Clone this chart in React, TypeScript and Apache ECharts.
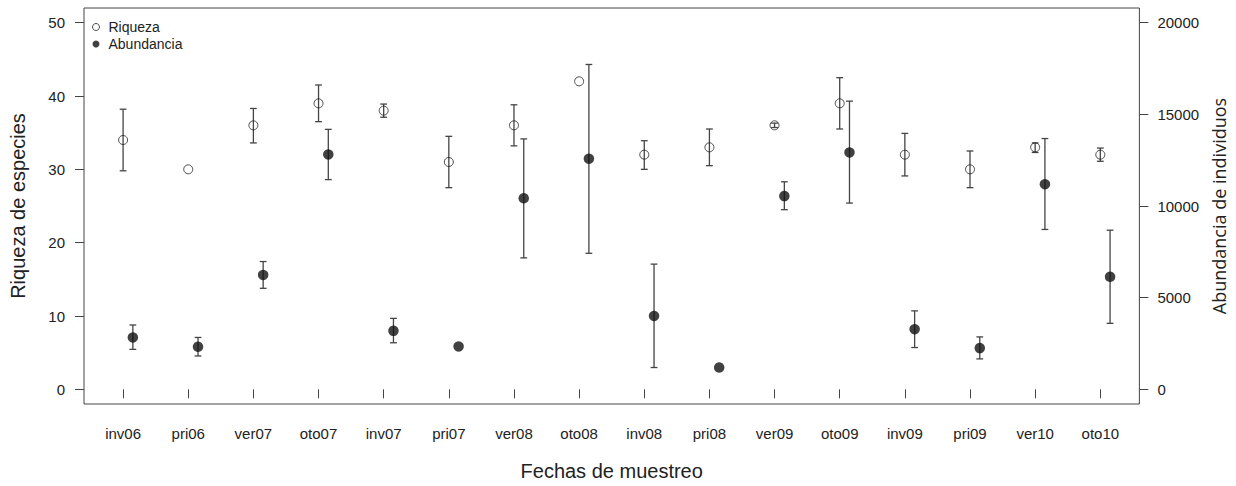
import React, { useEffect, useRef } from "react";
import * as echarts from "echarts";

const categories = ["inv06", "pri06", "ver07", "oto07", "inv07", "pri07", "ver08", "oto08", "inv08", "pri08", "ver09", "oto09", "inv09", "pri09", "ver10", "oto10"];

// Riqueza de especies (left axis): mean, lower, upper (null = no error bar)
const riqueza = [34, 30, 36, 39, 38, 31, 36, 42, 32, 33, 36, 39, 32, 30, 33, 32];
const riquezaLow = [29.8, null, 33.6, 36.5, 37.1, 27.5, 33.2, null, 30.0, 30.5, 35.7, 35.5, 29.1, 27.5, 32.3, 31.1];
const riquezaHigh = [38.2, null, 38.3, 41.5, 38.9, 34.5, 38.8, null, 33.9, 35.5, 36.3, 42.5, 34.9, 32.5, 33.6, 32.9];

// Abundancia de individuos (right axis): mean, lower, upper
const abundancia = [2830, 2320, 6240, 12810, 3190, 2340, 10420, 12580, 4000, 1190, 10540, 12920, 3280, 2250, 11190, 6140];
const abundanciaLow = [2180, 1820, 5510, 11440, 2540, null, 7170, 7420, 1190, null, 9800, 10160, 2280, 1660, 8720, 3600];
const abundanciaHigh = [3510, 2830, 6970, 14180, 3870, null, 13660, 17720, 6830, null, 11320, 15720, 4280, 2860, 13680, 8680];

const leftTicks = [0, 10, 20, 30, 40, 50];
const rightTicks = [0, 5000, 10000, 15000, 20000];

const ABUND_OFFSET = 0.15;

const FONT = "'Liberation Sans', Arial, Helvetica, sans-serif";
const TXT = "#222";

function errorBars(low: (number | null)[], high: (number | null)[], offset: number) {
  const out: number[][] = [];
  low.forEach((lo, i) => {
    const hi = high[i];
    if (lo != null && hi != null) out.push([i + 1 + offset, lo, hi]);
  });
  return out;
}

function renderErrorBar(params: any, api: any) {
  const x = api.value(0);
  const lo = api.coord([x, api.value(1)]);
  const hi = api.coord([x, api.value(2)]);
  const cap = 3.4;
  const style = { stroke: "#444", lineWidth: 1.3 };
  return {
    type: "group",
    children: [
      { type: "line", shape: { x1: lo[0], y1: lo[1], x2: hi[0], y2: hi[1] }, style },
      { type: "line", shape: { x1: lo[0] - cap, y1: lo[1], x2: lo[0] + cap, y2: lo[1] }, style },
      { type: "line", shape: { x1: hi[0] - cap, y1: hi[1], x2: hi[0] + cap, y2: hi[1] }, style },
    ],
  };
}

export default function App() {
  const ref = useRef<HTMLDivElement>(null);
  useEffect(() => {
    if (!ref.current) return;
    const chart = echarts.init(ref.current, null, { renderer: "svg" });
    const xTicks = categories.map((_, i) => i + 1);
    const option: any = {
      animation: false,
      backgroundColor: "#fff",
      textStyle: { fontFamily: FONT, color: TXT },
      grid: { left: 83, right: 92, top: 8, bottom: 79, show: true, borderColor: "#444", borderWidth: 1, backgroundColor: "transparent" },
      legend: {
        orient: "vertical",
        left: 87,
        top: 15,
        itemWidth: 7,
        itemHeight: 7,
        itemGap: 3,
        textStyle: { fontFamily: FONT, fontSize: 14, color: TXT, padding: [0, 0, 0, 4] },
        data: [
          { name: "Riqueza", icon: "circle", itemStyle: { color: "transparent", borderColor: "#222", borderWidth: 1 } },
          { name: "Abundancia", icon: "circle", itemStyle: { color: "#111" } },
        ],
      },
      xAxis: {
        type: "value",
        min: 0.4,
        max: 16.6,
        name: "Fechas de muestreo",
        nameLocation: "middle",
        nameGap: 57,
        nameTextStyle: { fontFamily: FONT, fontSize: 20, color: TXT },
        splitLine: { show: false },
        axisLine: { show: false },
        axisTick: { show: true, inside: false, length: 9, customValues: xTicks, lineStyle: { color: "#444" } },
        axisLabel: {
          customValues: xTicks,
          margin: 22,
          fontFamily: FONT,
          fontSize: 15,
          color: TXT,
          formatter: (v: number) => categories[Math.round(v) - 1] ?? "",
        },
      },
      yAxis: [
        {
          type: "value",
          min: -2,
          max: 52,
          position: "left",
          name: "Riqueza de especies",
          nameLocation: "middle",
          nameGap: 56,
          nameTextStyle: { fontFamily: FONT, fontSize: 20, color: TXT },
          splitLine: { show: false },
          axisLine: { show: false },
          axisTick: { show: true, length: 9, customValues: leftTicks, lineStyle: { color: "#444" } },
          axisLabel: { customValues: leftTicks, margin: 19, fontFamily: FONT, fontSize: 15, color: TXT },
        },
        {
          type: "value",
          min: -800,
          max: 20800,
          position: "right",
          name: "Abundancia de individuos",
          nameLocation: "middle",
          nameGap: 70,
          nameTextStyle: { fontFamily: "'Open Sans', sans-serif", fontSize: 18, color: TXT },
          splitLine: { show: false },
          axisLine: { show: false },
          axisTick: { show: true, length: 9, customValues: rightTicks, lineStyle: { color: "#444" } },
          axisLabel: {
            customValues: rightTicks,
            margin: 18,
            fontFamily: FONT,
            fontSize: 15,
            color: TXT,
            formatter: (v: number) => String(v),
          },
        },
      ],
      series: [
        {
          name: "Riqueza error",
          type: "custom",
          yAxisIndex: 0,
          renderItem: renderErrorBar,
          data: errorBars(riquezaLow, riquezaHigh, 0),
          z: 1,
          silent: true,
        },
        {
          name: "Abundancia error",
          type: "custom",
          yAxisIndex: 1,
          renderItem: renderErrorBar,
          data: errorBars(abundanciaLow, abundanciaHigh, ABUND_OFFSET),
          z: 1,
          silent: true,
        },
        {
          name: "Riqueza",
          type: "scatter",
          yAxisIndex: 0,
          symbol: "circle",
          symbolSize: 9,
          itemStyle: { color: "transparent", borderColor: "#222", borderWidth: 1 },
          data: riqueza.map((v, i) => [i + 1, v]),
          z: 3,
        },
        {
          name: "Abundancia",
          type: "scatter",
          yAxisIndex: 1,
          symbol: "circle",
          symbolSize: 10.5,
          itemStyle: { color: "#111" },
          data: abundancia.map((v, i) => [i + 1 + ABUND_OFFSET, v]),
          z: 3,
        },
      ],
    };
    chart.setOption(option);
    return () => chart.dispose();
  }, []);
  return <div ref={ref} style={{ position: "fixed", left: 0, top: 0, width: 1236, height: 486 }} />;
}
